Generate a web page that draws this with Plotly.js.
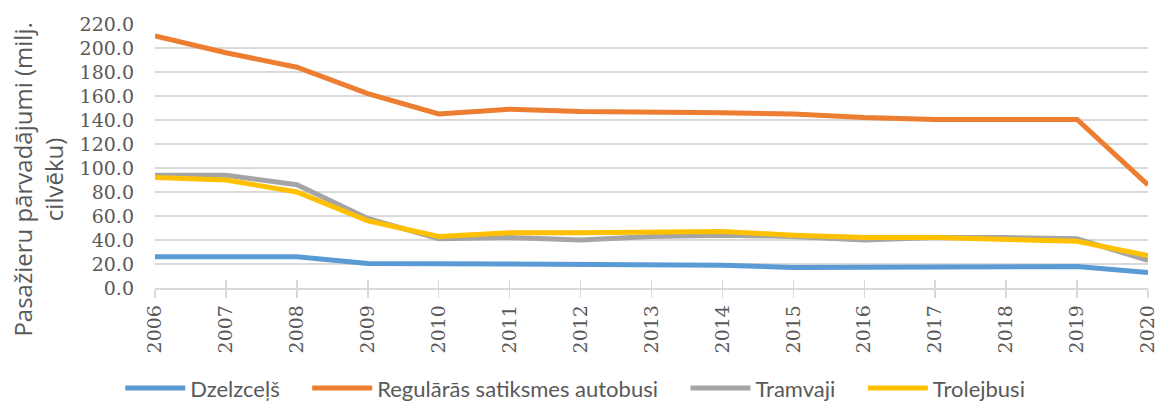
<!DOCTYPE html>
<html>
<head>
<meta charset="utf-8">
<script src="https://cdn.plot.ly/plotly-3.0.1.min.js"></script>
<style>html,body{margin:0;padding:0;background:#fff;}#chart{width:1155px;height:402px;}</style>
</head>
<body>
<div id="chart"></div>
<script>
const years = [2006,2007,2008,2009,2010,2011,2012,2013,2014,2015,2016,2017,2018,2019,2020];
const dzelzcels = [26,26,26,20.5,20,20,19,19,19,17,17,17,18,18,13];
const autobusi = [210,196,184,162,145,149,147,147,146,145,142,140.5,140.5,140.5,86];
const tramvaji = [94,94,86,58,41,42,40,43,44,43,40,42,42,41,23];
const trolejbusi = [92,90,80,56,43,46,46,47,47,44,42,42,41,39,27];
const seriesNames = ['Dzelzceļš','Regulārās satiksmes autobusi','Tramvaji','Trolejbusi'];
const colors = ['#5B9BD5','#ED7D31','#A5A5A5','#FFC000'];
const yTitle = 'Pasažieru pārvadājumi (milj.<br>cilvēku)';

const pad = '\u00A0\u00A0\u00A0\u00A0';
const vals = [dzelzcels, autobusi, tramvaji, trolejbusi];
const traces = vals.map((v, i) => ({
  x: years, y: v, name: seriesNames[i] + (i < 3 ? pad : ''), type: 'scatter', mode: 'lines',
  line: {color: colors[i], width: 5}
}));
traces.push({x: years, y: years.map(()=>null), xaxis: 'x2', yaxis: 'y', showlegend: false, hoverinfo: 'skip', mode: 'lines'});

const tickFont = {family: 'DejaVu Serif', size: 19, color: '#595959'};
const layout = {
  width: 1155, height: 402,
  margin: {l: 155, r: 7, t: 24, b: 114, autoexpand: false},
  paper_bgcolor: '#fff', plot_bgcolor: '#fff',
  showlegend: true,
  xaxis: {
    range: [2006, 2020], tickmode: 'array', tickvals: years, ticktext: years.map(String),
    tickangle: -90, tickfont: tickFont, showgrid: false, zeroline: false,
    showline: true, linecolor: '#D9D9D9', linewidth: 1.5, ticklabeloverflow: 'allow',
    ticks: 'outside', ticklen: 8, tickcolor: '#D9D9D9', tickwidth: 1.5, automargin: false
  },
  xaxis2: {
    range: [2006, 2020], overlaying: 'x', tickmode: 'array', tickvals: years,
    showticklabels: false, showgrid: false, zeroline: false, showline: false,
    ticks: 'inside', ticklen: 8, tickcolor: '#D9D9D9', tickwidth: 1.5, side: 'bottom'
  },
  yaxis: {
    range: [0, 220], tickmode: 'array', tickvals: [0,20,40,60,80,100,120,140,160,180,200,220],
    tickformat: '.1f', tickfont: tickFont, showgrid: true, gridcolor: '#D9D9D9', gridwidth: 1.5,
    zeroline: false, showline: false, ticks: '', ticklabelstandoff: 20, automargin: false
  },
  annotations: [{
    text: yTitle, xref: 'paper', yref: 'paper', x: -0.118, y: 0.41,
    xanchor: 'center', yanchor: 'middle', textangle: -90, showarrow: false,
    font: {family: 'Open Sans', size: 24, color: '#595959'}
  }],
  legend: {
    orientation: 'h', x: -0.035, y: -0.30, xanchor: 'left', yanchor: 'top',
    itemwidth: 60,
    font: {family: 'Lato', size: 22, color: '#595959'}
  }
};
Plotly.newPlot('chart', traces, layout, {displayModeBar: false, staticPlot: true});
</script>
</body>
</html>
